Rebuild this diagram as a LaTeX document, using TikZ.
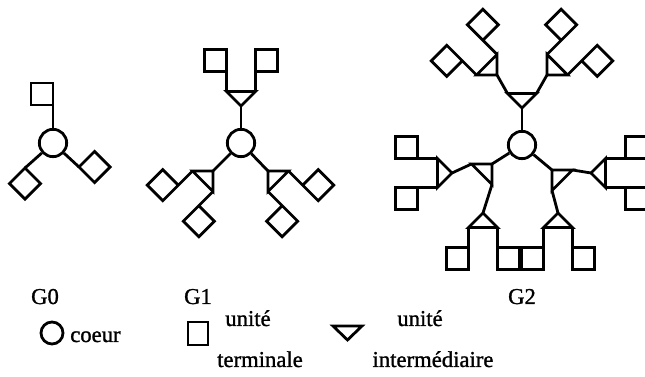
\documentclass[tikz,border=0pt]{standalone}
\usepackage{fontspec}
\setmainfont{Liberation Serif}[FakeBold=1.2]
% sizes of the building blocks (in px units)
\def\triH{14.5}  % half hypotenuse of an intermediate unit
\def\legL{20}    % leg from a unit to its terminal square
\def\sqS{22}     % side of a terminal square
\begin{document}
\begin{tikzpicture}[x=0.75pt,y=0.75pt,
  bond/.style={line width=2.1pt},
  core/.style={circle,draw,line width=2.1pt,minimum size=20.5pt,inner sep=0pt},
  lbl/.style={font=\fontsize{17}{20}\selectfont,inner sep=0pt,anchor=base},
  % terminal square hanging from a corner, on the left of the outward direction (+y)
  arm/.pic={
    \coordinate (-c) at (0,0);
    \draw[bond] (0,0) -- (0,\sqS) -- (-\sqS,\sqS) -- (-\sqS,0) -- cycle;
  },
  % intermediate unit alone: apex towards the core, hypotenuse outwards
  fork/.pic={
    \coordinate (-apex) at (0,0);
    \coordinate (-a) at (-\triH,\triH);
    \coordinate (-b) at (\triH,\triH);
    \draw[bond] (0,0) -- (-\triH,\triH) -- (\triH,\triH) -- cycle;
  },
  % intermediate unit carrying two terminal squares
  unit/.pic={
    \coordinate (-apex) at (0,0);
    \coordinate (-a) at (-\triH,\triH);
    \coordinate (-b) at (\triH,\triH);
    \draw[bond] (0,0) -- (-\triH,\triH) -- (\triH,\triH) -- cycle;
    \draw[bond] (-\triH,\triH) -- ++(0,\legL+\sqS) -- ++(-\sqS,0) -- ++(0,-\sqS) -- ++(\sqS,0);
    \draw[bond] (\triH,\triH) -- ++(0,\legL+\sqS) -- ++(\sqS,0) -- ++(0,-\sqS) -- ++(-\sqS,0);
  }]
\useasboundingbox (0,0) rectangle (645,377);

% ---------- G0 ----------
\node[core] (c0) at (53,234) {};
\pic (g0t) at (53,272) {arm};
\pic[rotate=135] (g0l) at (25,209) {arm};
\pic[rotate=225] (g0r) at (79,210) {arm};
\draw[bond] (c0) -- (g0t-c);
\draw[bond] (c0) -- (g0l-c);
\draw[bond] (c0) -- (g0r-c);

% ---------- G1 ----------
\node[core] (c1) at (241,234) {};
\pic (g1t) at (241,271) {unit};
\pic[rotate=135] (g1l) at (213,206) {unit};
\pic[rotate=225] (g1r) at (268,206) {unit};
\draw[bond] (c1) -- (g1t-apex);
\draw[bond] (c1) -- (g1l-apex);
\draw[bond] (c1) -- (g1r-apex);

% ---------- G2 ----------
\node[core] (c2) at (522,232) {};
% first generation
\pic (g2t) at (522,269) {fork};
\pic[rotate=135] (g2l) at (492,213) {fork};
\pic[rotate=225] (g2r) at (552,207) {fork};
\draw[bond] (c2) -- (g2t-apex);
\draw[bond] (c2) -- (g2l-apex);
\draw[bond] (c2) -- (g2r-apex);
% second generation
\pic[rotate=45]  (g2tl) at (497,302) {unit};
\pic[rotate=-45] (g2tr) at (547,302) {unit};
\pic[rotate=90]  (g2ll) at (452,204) {unit};
\pic[rotate=180] (g2ld) at (483,164) {unit};
\pic[rotate=-90] (g2rr) at (591,204) {unit};
\pic[rotate=180] (g2rd) at (558,164) {unit};
\draw[bond] (g2t-a) -- (g2tl-apex);
\draw[bond] (g2t-b) -- (g2tr-apex);
\draw[bond] (g2l-b) -- (g2ll-apex);
\draw[bond] (g2l-a) -- (g2ld-apex);
\draw[bond] (g2r-a) -- (g2rr-apex);
\draw[bond] (g2r-b) -- (g2rd-apex);

% ---------- generation labels ----------
\node[lbl] (t0) at (45,73) {G0};
\node[lbl] (t1) at (198,73) {G1};
\node[lbl] (t2) at (522,73) {G2};

% ---------- legend ----------
\node[core,minimum size=16.5pt] (kcore) at (52,44) {};
\node[lbl,anchor=base west] (kcoret) at (70,35) {coeur};
\draw[bond] (188,32) rectangle (208,55);
\node[lbl] (kterm1) at (248,51) {unité};
\node[lbl] (kterm2) at (260,10) {terminale};
\draw[bond] (333,51) -- (362,51) -- (347.5,37) -- cycle;
\node[lbl] (kint1) at (420,51) {unité};
\node[lbl] (kint2) at (433,10) {intermédiaire};
\end{tikzpicture}
\end{document}
